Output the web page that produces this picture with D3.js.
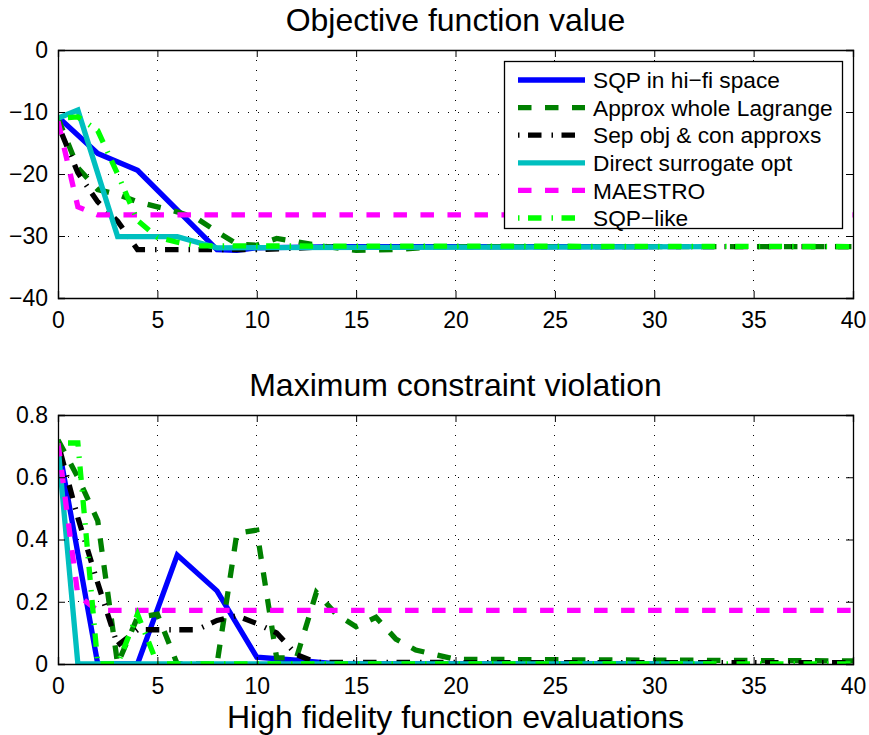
<!DOCTYPE html>
<html>
<head>
<meta charset="utf-8">
<script src="https://cdn.jsdelivr.net/npm/d3@7"></script>
<style>
  body { margin: 0; background: #fff; }
  text { font-family: "Liberation Sans", Arial, Helvetica, sans-serif; fill: #000; }
</style>
</head>
<body>
<svg id="chart" width="869" height="735"></svg>
<script>
// ---- data ----
const seriesNames = ["SQP in hi\u2212fi space", "Approx whole Lagrange", "Sep obj & con approxs",
                     "Direct surrogate opt", "MAESTRO", "SQP\u2212like"];

const xTicks = [0, 5, 10, 15, 20, 25, 30, 35, 40];
const objTicks = [-40, -30, -20, -10, 0];
const objTickLabels = ["\u221240", "\u221230", "\u221220", "\u221210", "0"];
const conTicks = [0, 0.2, 0.4, 0.6, 0.8];
const conTickLabels = ["0", "0.2", "0.4", "0.6", "0.8"];

// objective function value
const objSqpX = [0, 2, 4, 8, 9, 10, 14, 30];
const objSqpY = [-10.8, -16.7, -19.4, -32.2, -32.3, -31.9, -31.7, -31.7];
const objLagX = [0, 1, 2, 3, 4, 5, 6, 7, 8, 9, 10, 11, 12, 13, 15, 17, 19, 40];
const objLagY = [-11, -19, -22.5, -23.3, -24.5, -25.3, -26.1, -27.2, -29.3, -31.3, -31.5, -30.4, -30.9, -31.5, -32.3, -32.2, -31.7, -31.7];
const objSepX = [0, 1, 2, 3, 4, 10, 14, 40];
const objSepY = [-12, -19.8, -24.5, -27.6, -32.2, -32.2, -31.7, -31.7];
const objDirX = [0, 1, 3, 6, 8, 33];
const objDirY = [-11, -9.7, -30.1, -30.1, -31.9, -31.7];
const objMaeX = [0, 1, 2, 40];
const objMaeY = [-11.5, -25.3, -26.6, -26.6];
const objLikeX = [0, 1, 2, 3, 4, 5, 6, 7, 40];
const objLikeY = [-11, -10.8, -13, -20, -27.5, -30.2, -31, -31.6, -31.7];

// maximum constraint violation
const conSqpX = [0, 2, 4, 6, 8, 10, 12, 14, 30];
const conSqpY = [0.71, 0, 0, 0.35, 0.235, 0.022, 0.012, 0, 0];
const conLagX = [0, 1, 2, 3, 4, 5, 6, 7, 8, 9, 10, 11, 12, 13, 14, 15, 16, 17, 18, 19, 20, 40];
const conLagY = [0.72, 0.6, 0.46, 0, 0.15, 0.16, 0, 0, 0, 0.42, 0.43, 0.02, 0.02, 0.23, 0.16, 0.12, 0.15, 0.08, 0.045, 0.03, 0.015, 0.01];
const conSepX = [0, 1, 2, 3, 4, 5, 6, 7, 8, 9, 10, 11, 12, 13, 40];
const conSepY = [0.71, 0.47, 0.26, 0.06, 0.11, 0.11, 0.11, 0.11, 0.14, 0.155, 0.13, 0.1, 0.03, 0.005, 0.004];
const conDirX = [0, 1, 33];
const conDirY = [0.7, 0, 0];
const conMaeX = [0, 1, 2, 40];
const conMaeY = [0.71, 0.22, 0.172, 0.172];
const conLikeX = [0, 1, 2, 3, 4, 5, 40];
const conLikeY = [0.71, 0.71, 0, 0, 0.16, 0, 0];

// ---- styles ----
const colors = ["#0000ff", "#008000", "#000000", "#00bfbf", "#ff00ff", "#00ff00"];
const dashes = [null, "13.5,13.5", "1.5,8.5,13.5,10", null, "13.5,13.5", "1.5,8.5,13.5,10"];
const lineW = 5.3;

const zip = (xs, ys) => xs.map((v, i) => [v, ys[i]]);
const objSeries = [zip(objSqpX, objSqpY), zip(objLagX, objLagY), zip(objSepX, objSepY),
                   zip(objDirX, objDirY), zip(objMaeX, objMaeY), zip(objLikeX, objLikeY)];
const conSeries = [zip(conSqpX, conSqpY), zip(conLagX, conLagY), zip(conSepX, conSepY),
                   zip(conDirX, conDirY), zip(conMaeX, conMaeY), zip(conLikeX, conLikeY)];

const svg = d3.select("#chart");
const x = d3.scaleLinear().domain([0, 40]).range([58, 853]);

function drawPanel(id, yScale, yTicks, yLabels, series, title, titleY) {
  const [yb, yt] = yScale.range();
  const g = svg.append("g");

  g.append("clipPath").attr("id", id)
    .append("rect").attr("x", x(0)).attr("y", yt).attr("width", x(40) - x(0)).attr("height", yb - yt);

  // dotted grid
  const grid = g.append("g").attr("stroke", "#000").attr("stroke-width", 1)
    .attr("stroke-dasharray", "1.2,8.8").attr("shape-rendering", "crispEdges");
  grid.selectAll(".gx").data(xTicks).join("line")
    .attr("x1", d => x(d)).attr("x2", d => x(d)).attr("y1", yt).attr("y2", yb);
  grid.selectAll(".gy").data(yTicks).join("line")
    .attr("x1", x(0)).attr("x2", x(40)).attr("y1", d => yScale(d)).attr("y2", d => yScale(d));

  // series
  const line = d3.line().x(d => x(d[0])).y(d => yScale(d[1]));
  g.append("g").attr("clip-path", `url(#${id})`)
    .selectAll("path").data(series).join("path")
    .attr("d", line)
    .attr("fill", "none")
    .attr("stroke", (d, i) => colors[i])
    .attr("stroke-width", lineW)
    .attr("stroke-linejoin", "miter")
    .attr("stroke-dasharray", (d, i) => dashes[i]);

  // axes with inward ticks on all sides
  const tickLen = 7;
  const bottom = g.append("g").attr("transform", `translate(0,${yb})`)
    .call(d3.axisBottom(x).tickValues(xTicks).tickSize(-tickLen).tickPadding(14).tickFormat(d3.format("d")));
  const leftAx = g.append("g").attr("transform", `translate(${x(0)},0)`)
    .call(d3.axisLeft(yScale).tickValues(yTicks).tickSize(-tickLen).tickPadding(10)
      .tickFormat((d, i) => yLabels[i]));
  g.append("g").attr("transform", `translate(0,${yt})`)
    .call(d3.axisTop(x).tickValues(xTicks).tickSize(-tickLen).tickFormat(""));
  g.append("g").attr("transform", `translate(${x(40)},0)`)
    .call(d3.axisRight(yScale).tickValues(yTicks).tickSize(-tickLen).tickFormat(""));

  g.selectAll(".domain").attr("stroke", "#000").attr("stroke-width", 1.3);
  g.selectAll(".tick line").attr("stroke", "#000").attr("stroke-width", 1);
  [bottom, leftAx].forEach(a => a.selectAll("text")
    .attr("font-size", 23).attr("font-family", "Liberation Sans, Arial, sans-serif").attr("fill", "#000"));

  g.append("text")
    .attr("x", (x(0) + x(40)) / 2).attr("y", titleY)
    .attr("text-anchor", "middle").attr("font-size", 32)
    .text(title);
  return g;
}

const yObj = d3.scaleLinear().domain([-40, 0]).range([298, 50]);
const yCon = d3.scaleLinear().domain([0, 0.8]).range([664, 415]);

const topG = drawPanel("clipTop", yObj, objTicks, objTickLabels, objSeries, "Objective function value", 31);
drawPanel("clipBot", yCon, conTicks, conTickLabels, conSeries, "Maximum constraint violation", 396);

svg.append("text")
  .attr("x", (x(0) + x(40)) / 2).attr("y", 728)
  .attr("text-anchor", "middle").attr("font-size", 32)
  .text("High fidelity function evaluations");

// legend
const legend = topG.append("g");
legend.append("rect")
  .attr("x", 504.5).attr("y", 61.5).attr("width", 338).attr("height", 167)
  .attr("fill", "#fff").attr("stroke", "#000").attr("stroke-width", 1.3);
const rowY = i => 80 + i * 27.6;
const items = legend.selectAll(".item").data(seriesNames).join("g");
items.append("line")
  .attr("x1", 518).attr("x2", 585)
  .attr("y1", (d, i) => rowY(i)).attr("y2", (d, i) => rowY(i))
  .attr("stroke", (d, i) => colors[i])
  .attr("stroke-width", lineW)
  .attr("stroke-dasharray", (d, i) => dashes[i]);
items.append("text")
  .attr("x", 593).attr("y", (d, i) => rowY(i)).attr("dy", "0.36em")
  .attr("font-size", 22.7)
  .text(d => d);
</script>
</body>
</html>
